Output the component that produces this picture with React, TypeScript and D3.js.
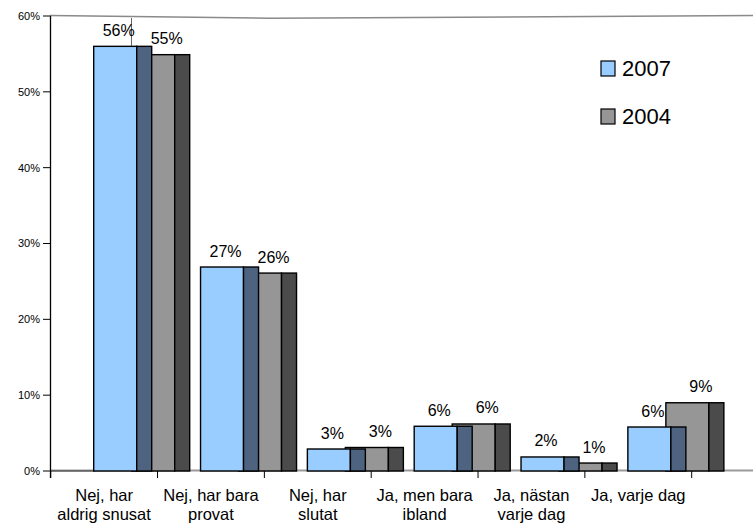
import React from "react";
import * as d3 from "d3";

const categories = [
  ["Nej, har", "aldrig snusat"],
  ["Nej, har bara", "provat"],
  ["Nej, har", "slutat"],
  ["Ja, men bara", "ibland"],
  ["Ja, nästan", "varje dag"],
  ["Ja, varje dag"],
];
const series2007 = [56, 26.9, 2.9, 5.9, 1.85, 5.8];
const series2004 = [54.9, 26.1, 3.1, 6.2, 1.05, 9.0];
const yTicks = [0, 10, 20, 30, 40, 50, 60];
const legendLabels = ["2007", "2004"];

const W = 753;
const H = 524;
const FONT = "'Liberation Sans', Arial, sans-serif";

export default function App() {
  const x = d3
    .scaleBand<number>()
    .domain(categories.map((_, i) => i))
    .range([50.7, 691.7])
    .padding(0);
  const y = d3.scaleLinear().domain([0, 60]).range([471, 16]);
  const bw = x.bandwidth();
  const frontW = 43;
  const sideW = 15;
  const offBlue = 43;
  const offGray = 81;

  const bar = (
    x0: number,
    v: number,
    front: string,
    side: string,
    key: string
  ) => {
    const top = y(v);
    const h = y(0) - top;
    return (
      <g key={key}>
        <rect x={x0} y={top} width={frontW} height={h} fill={front} stroke="#000" strokeWidth={1.4} />
        <rect x={x0 + frontW} y={top} width={sideW} height={h} fill={side} stroke="#000" strokeWidth={1.4} />
      </g>
    );
  };

  return (
    <svg
      width={W}
      height={H}
      style={{ position: "absolute", left: 0, top: 0, background: "#fff" }}
      fontFamily={FONT}
    >
      {/* back wall top edge */}
      <polyline points="50,15.5 270,18.3 753,15.5" fill="none" stroke="#8a8a8a" strokeWidth={1.5} />
      <line x1={131.5} y1={18} x2={131.5} y2={60} stroke="#666" strokeWidth={1} />
      {/* floor */}
      <line x1={50} y1={470.5} x2={753} y2={470.5} stroke="#9a9a9a" strokeWidth={2} />
      <line x1={50} y1={471} x2={95} y2={471} stroke="#333" strokeWidth={1.2} />

      {/* bars */}
      {categories.map((_, i) => {
        const x0 = x(i) as number;
        return (
          <g key={i}>
            {bar(x0 + offGray, series2004[i], "#969696", "#4b4b4b", "g" + i)}
            {bar(x0 + offBlue, series2007[i], "#99ccff", "#4d6380", "b" + i)}
          </g>
        );
      })}

      {/* value labels */}
      {categories.map((_, i) => {
        const x0 = x(i) as number;
        return (
          <g key={"l" + i} fontSize={16} fill="#000">
            <text x={x0 + 68} y={y(series2007[i]) - 10.5} textAnchor="middle">
              {Math.round(series2007[i])}%
            </text>
            <text x={x0 + 116} y={y(series2004[i]) - 10.5} textAnchor="middle">
              {Math.round(series2004[i])}%
            </text>
          </g>
        );
      })}

      {/* y axis */}
      <line x1={50.5} y1={16} x2={50.5} y2={478} stroke="#000" strokeWidth={1.3} />
      {yTicks.map((t) => (
        <g key={t}>
          <line x1={43} y1={y(t)} x2={50.5} y2={y(t)} stroke="#000" strokeWidth={1} />
          <text x={40} y={y(t)} dy="0.35em" textAnchor="end" fontSize={11}>
            {t}%
          </text>
        </g>
      ))}

      {/* x ticks */}
      {[...categories.map((_, i) => x(i) as number), (x(categories.length - 1) as number) + bw].map((xx, i) => (
        <line key={"t" + i} x1={xx} y1={471} x2={xx} y2={478} stroke="#000" strokeWidth={1} />
      ))}

      {/* category labels */}
      {categories.map((lines, i) => {
        const cx = (x(i) as number) + bw / 2;
        return (
          <text key={"c" + i} x={cx} textAnchor="middle" fontSize={16.5} fill="#000">
            {lines.map((ln, j) => (
              <tspan key={j} x={cx} y={501 + j * 18.5}>
                {ln}
              </tspan>
            ))}
          </text>
        );
      })}

      {/* legend */}
      {legendLabels.map((lab, i) => (
        <g key={lab} transform={`translate(601, ${61 + i * 48})`}>
          <rect x={0} y={0} width={14} height={15} fill={i === 0 ? "#99ccff" : "#969696"} stroke="#000" strokeWidth={1.2} />
          <text x={21} y={15} fontSize={22} fill="#000">
            {lab}
          </text>
        </g>
      ))}
    </svg>
  );
}
